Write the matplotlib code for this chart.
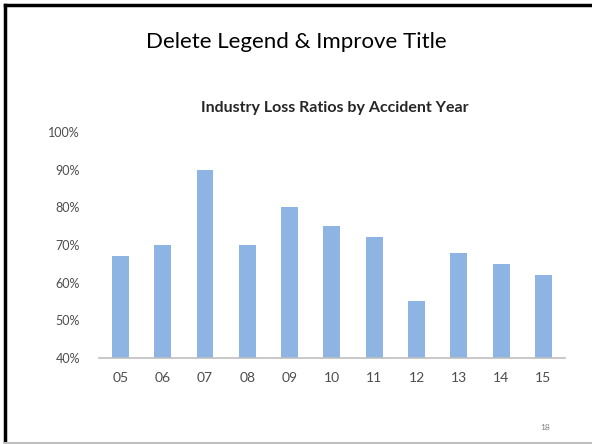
import matplotlib.pyplot as plt
from matplotlib.lines import Line2D
from matplotlib.ticker import FuncFormatter

years = ['05', '06', '07', '08', '09', '10', '11', '12', '13', '14', '15']
loss_ratios = [67, 70, 90, 70, 80, 75, 72, 55, 68, 65, 62]
y_ticks = [40, 50, 60, 70, 80, 90, 100]

slide_title = 'Delete Legend & Improve Title'
chart_title = 'Industry Loss Ratios by Accident Year'
slide_no = '18'

fig = plt.figure(figsize=(5.92, 4.44), dpi=100)
ax = fig.add_axes([0.1677, 0.1937, 0.786, 0.509])

ax.bar(range(len(years)), loss_ratios, width=0.4, color='#8DB4E2', zorder=2)
ax.set_xlim(-0.5, len(years) - 0.5)
ax.set_ylim(40, 100)
ax.set_yticks(y_ticks)
ax.yaxis.set_major_formatter(FuncFormatter(lambda v, p: '%d%%' % v))
ax.set_xticks(range(len(years)))
ax.set_xticklabels(years)

for s in ['top', 'right', 'left']:
    ax.spines[s].set_visible(False)
ax.spines['bottom'].set_color('#BFBFBF')
ax.spines['bottom'].set_linewidth(1.2)
ax.tick_params(axis='both', length=0, colors='#4D4D4D')
ax.tick_params(axis='y', pad=14, labelsize=9)
ax.tick_params(axis='x', pad=10, labelsize=10)
for lab in ax.get_xticklabels() + ax.get_yticklabels():
    lab.set_fontfamily('Lato')

fig.text(0.5, 0.905, slide_title, ha='center', va='center',
         fontsize=16, family='Lato', color='black')
fig.text(0.565, 0.757, chart_title, ha='center', va='center',
         fontsize=11.5, family='Lato', fontweight='bold', color='#262626')
fig.text(0.921, 0.038, slide_no, ha='center', va='center',
         fontsize=6, family='Lato', color='#7F7F7F')

# slide frame: black top and left, light grey bottom
fig.add_artist(Line2D([0.009, 1], [0.989, 0.989], transform=fig.transFigure,
                      color='black', linewidth=2.5))
fig.add_artist(Line2D([0.009, 0.009], [0, 0.989], transform=fig.transFigure,
                      color='black', linewidth=2.5))
fig.add_artist(Line2D([0.009, 1], [0.003, 0.003], transform=fig.transFigure,
                      color='#BFBFBF', linewidth=1.5))

fig.savefig('out.png', dpi=100)
